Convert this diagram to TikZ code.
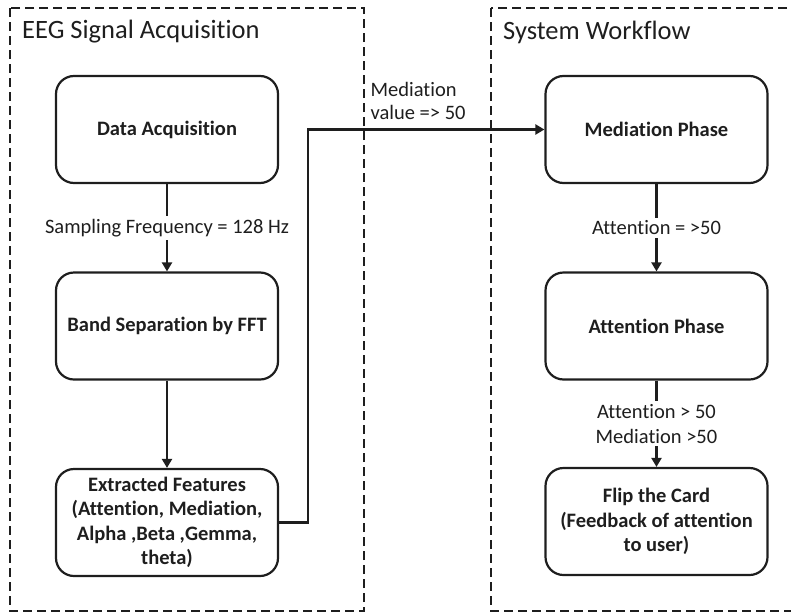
\documentclass[tikz,border=0pt]{standalone}
\usepackage{fontspec}
\setmainfont{Carlito}[Ligatures=NoCommon]
\usetikzlibrary{arrows.meta,calc}
\definecolor{ink}{RGB}{30,30,30}
\begin{document}
\begin{tikzpicture}[x=1pt,y=-1pt,
  every node/.style={text=ink},
  group/.style={draw=ink, line width=2.2pt, dash pattern=on 9pt off 5pt},
  grouptitle/.style={font=\fontsize{26.5}{31}\selectfont, anchor=west, inner sep=0pt},
  stepbox/.style={draw=ink, line width=2.2pt, rounded corners=18pt,
    minimum width=222pt, minimum height=107pt, align=center,
    font=\fontsize{20.5}{24.5}\selectfont\bfseries},
  flow/.style={draw=ink, line width=2.2pt, -{Triangle[width=10pt,length=9pt]}},
  cond/.style={fill=white, align=center, inner sep=3pt,
    font=\fontsize{20.5}{25}\selectfont}
]
\useasboundingbox (0,0) rectangle (791,613);

% group frames
\draw[group] (10,8) rectangle (364,611);
\draw[group] (491,8) rectangle (820,611);
\node[grouptitle] (t1) at (22,32) {EEG Signal Acquisition};
\node[grouptitle] (t2) at (503,32) {System Workflow};

% acquisition chain
\node[stepbox] (da) at (167,129.5) {Data Acquisition};
\node[stepbox] (bs) at (167,326) {Band Separation by FFT};
\node[stepbox] (ef) at (167,522.5) {Extracted Features\\(Attention, Mediation,\\Alpha ,Beta ,Gemma,\\theta)};

% workflow chain
\node[stepbox] (mp) at (656.5,129.5) {Mediation Phase};
\node[stepbox] (ap) at (656.5,326) {Attention Phase};
\node[stepbox] (fc) at (656.5,521.5) {Flip the Card\\(Feedback of attention\\to user)};

% connectors
\draw[flow] (da) -- node[cond] {Sampling Frequency = 128 Hz} (bs);
\draw[flow] (bs) -- (ef);
\draw[flow] (ef.east) -- ($(ef.east)+(29,0)$) |-
  node[pos=0.63, anchor=south west, align=left, inner sep=0pt, yshift=9pt,
       font=\fontsize{20.5}{23}\selectfont] {Mediation\\value => 50} (mp.west);
\draw[flow] (mp) -- node[cond] {Attention = >50} (ap);
\draw[flow] (ap) -- node[cond] {Attention > 50\\Mediation >50} (fc);
\end{tikzpicture}
\end{document}
